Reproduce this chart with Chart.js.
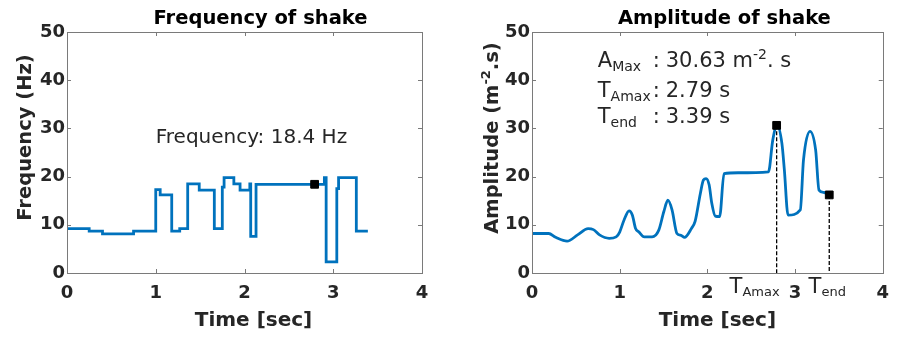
<!DOCTYPE html>
<html>
<head>
<meta charset="utf-8">
<script src="https://cdn.jsdelivr.net/npm/chart.js@4.4.0/dist/chart.umd.min.js"></script>
<style>
  body { margin: 0; background: #fff; }
  #wrap { position: relative; width: 899px; height: 339px; }
  canvas { position: absolute; top: 0; }
</style>
</head>
<body>
<div id="wrap">
  <canvas id="freq" width="450" height="339" style="left:0"></canvas>
  <canvas id="amp" width="449" height="339" style="left:450px"></canvas>
</div>
<script>
"use strict";

// frequency of shake (held value from each time until the next one)
var freqTime = [0, 0.25, 0.40, 0.75, 1.00, 1.05, 1.18, 1.27, 1.36, 1.49, 1.66, 1.75, 1.77, 1.88, 1.95, 2.06, 2.07, 2.13, 2.90, 2.92, 3.04, 3.06, 3.26, 3.39];
var freqHz = [9.2, 8.7, 8.1, 8.7, 17.3, 16.2, 8.7, 9.2, 18.5, 17.2, 9.2, 17.8, 19.8, 18.5, 17.2, 18.5, 7.6, 18.4, 19.8, 2.3, 17.5, 19.8, 8.7, 8.7];
var freqMarkTime = [2.79];
var freqMarkHz = [18.4];

// amplitude of shake
var ampTime = [0, 0.19, 0.27, 0.40, 0.52, 0.64, 0.70, 0.77, 0.88, 0.96, 1.00, 1.05, 1.107, 1.145, 1.18, 1.22, 1.28, 1.37, 1.446, 1.503, 1.55, 1.597, 1.653, 1.70, 1.74, 1.82, 1.86, 1.92, 1.955, 1.985, 2.02, 2.05, 2.09, 2.14, 2.19, 2.35, 2.697, 2.746, 2.795, 2.85, 2.878, 2.92, 3.06, 3.096, 3.17, 3.235, 3.273, 3.33, 3.39];
var ampVal = [8.2, 8.2, 7.4, 6.6, 7.9, 9.2, 9.0, 7.9, 7.2, 7.5, 8.5, 11.0, 12.9, 12.0, 9.3, 8.5, 7.5, 7.5, 8.9, 12.7, 15.1, 13.1, 8.2, 7.8, 7.4, 9.3, 10.7, 16.5, 19.3, 19.6, 18.3, 14.5, 11.8, 11.7, 20.6, 20.8, 21.0, 27.6, 30.7, 26.9, 21.4, 12.0, 13.1, 23.4, 29.4, 25.5, 17.2, 16.7, 16.2];
var ampMarkTime = [2.79, 3.39];
var ampMarkVal = [30.63, 16.2];

var xTicks = [0, 1, 2, 3, 4];
var yTicks = [0, 10, 20, 30, 40, 50];

var blue = '#0072BD';
var textColor = '#262626';
var tickFont = { family: 'DejaVu Sans', size: 18, weight: 'bold' };

function pts(xs, ys) {
  return xs.map(function(x, i) { return { x: x, y: ys[i] }; });
}

// text made of pieces: [text, size, dy, bold]
function drawRich(ctx, parts, x, y, align) {
  var w = 0;
  parts.forEach(function(p) {
    ctx.font = (p[3] ? 'bold ' : '') + p[1] + 'px "DejaVu Sans"';
    w += ctx.measureText(p[0]).width;
  });
  var sx = align === 'center' ? x - w / 2 : (align === 'right' ? x - w : x);
  parts.forEach(function(p) {
    ctx.font = (p[3] ? 'bold ' : '') + p[1] + 'px "DejaVu Sans"';
    ctx.fillText(p[0], sx, y + (p[2] || 0));
    sx += ctx.measureText(p[0]).width;
  });
}

// MATLAB style box with inward ticks
var boxPlugin = {
  id: 'box',
  afterDraw: function(chart) {
    var ctx = chart.ctx, a = chart.chartArea, xs = chart.scales.x, ys = chart.scales.y;
    ctx.save();
    ctx.strokeStyle = '#7a7a7a';
    ctx.lineWidth = 1;
    ctx.strokeRect(Math.round(a.left) + 0.5, Math.round(a.top) + 0.5, Math.round(a.right - a.left), Math.round(a.bottom - a.top));
    ctx.beginPath();
    xTicks.forEach(function(v) {
      var px = Math.round(xs.getPixelForValue(v)) + 0.5;
      ctx.moveTo(px, a.bottom); ctx.lineTo(px, a.bottom - 4);
      ctx.moveTo(px, a.top); ctx.lineTo(px, a.top + 4);
    });
    yTicks.forEach(function(v) {
      var py = Math.round(ys.getPixelForValue(v)) + 0.5;
      ctx.moveTo(a.left, py); ctx.lineTo(a.left + 4, py);
      ctx.moveTo(a.right, py); ctx.lineTo(a.right - 4, py);
    });
    ctx.stroke();
    ctx.restore();
  }
};

function textPlugin(draw) {
  return { id: 'texts', afterDraw: function(chart) {
    var ctx = chart.ctx;
    ctx.save();
    ctx.fillStyle = textColor;
    ctx.textBaseline = 'alphabetic';
    draw(chart, ctx, chart.chartArea, chart.scales.x, chart.scales.y);
    ctx.restore();
  } };
}

function baseOptions(padRight, yWidth) {
  return {
    responsive: false,
    animation: false,
    devicePixelRatio: 1,
    layout: { padding: { left: 0, top: 32, right: padRight, bottom: 0 } },
    plugins: { legend: { display: false }, tooltip: { enabled: false } },
    scales: {
      x: {
        type: 'linear', min: 0, max: 4,
        afterBuildTicks: function(s) { s.ticks = xTicks.map(function(v) { return { value: v }; }); },
        ticks: { font: tickFont, color: textColor, padding: 10, maxRotation: 0 },
        grid: { display: false, drawTicks: false, tickLength: 0 },
        border: { display: false },
        afterFit: function(s) { s.height = 66; }
      },
      y: {
        min: 0, max: 50,
        afterBuildTicks: function(s) { s.ticks = yTicks.map(function(v) { return { value: v }; }); },
        ticks: { font: tickFont, color: textColor, padding: 2 },
        grid: { display: false, drawTicks: false, tickLength: 0 },
        border: { display: false },
        afterFit: function(s) { s.width = yWidth; }
      }
    }
  };
}

new Chart(document.getElementById('freq'), {
  type: 'line',
  data: {
    datasets: [
      { data: pts(freqMarkTime, freqMarkHz), showLine: false, pointStyle: 'rect', pointRadius: 5.5,
        pointBackgroundColor: '#000', pointBorderColor: '#000', order: 0 },
      { data: pts(freqTime, freqHz), stepped: true, borderColor: blue, borderWidth: 2.8,
        pointRadius: 0, fill: false, order: 1 }
    ]
  },
  options: baseOptions(28, 67),
  plugins: [boxPlugin, textPlugin(function(chart, ctx, a, xs, ys) {
    var cx = (a.left + a.right) / 2;
    ctx.fillStyle = '#000';
    drawRich(ctx, [['Frequency of shake', 19.5, 0, true]], cx + 16, 24, 'center');
    ctx.fillStyle = textColor;
    drawRich(ctx, [['Time [sec]', 20, 0, true]], cx + 9, 326, 'center');
    ctx.save();
    ctx.translate(31, 137.5);
    ctx.rotate(-Math.PI / 2);
    drawRich(ctx, [['Frequency (Hz)', 19.5, 0, true]], 0, 0, 'center');
    ctx.restore();
    drawRich(ctx, [['Frequency: 18.4 Hz', 20, 0, false]], xs.getPixelForValue(1.0), ys.getPixelForValue(27.0), 'left');
  })]
});

new Chart(document.getElementById('amp'), {
  type: 'line',
  data: {
    datasets: [
      { data: pts(ampMarkTime, ampMarkVal), showLine: false, pointStyle: 'rect', pointRadius: 5.5,
        pointBackgroundColor: '#000', pointBorderColor: '#000', order: 0 },
      { data: [{ x: ampMarkTime[0], y: ampMarkVal[0] }, { x: ampMarkTime[0], y: 0 }], borderColor: '#000',
        borderWidth: 1.3, borderDash: [4, 2], pointRadius: 0, order: 1 },
      { data: [{ x: ampMarkTime[1], y: ampMarkVal[1] }, { x: ampMarkTime[1], y: 0 }], borderColor: '#000',
        borderWidth: 1.3, borderDash: [4, 2], pointRadius: 0, order: 1 },
      { data: pts(ampTime, ampVal), cubicInterpolationMode: 'monotone', borderColor: blue, borderWidth: 2.8,
        pointRadius: 0, fill: false, order: 2 }
    ]
  },
  options: baseOptions(13, 82),
  plugins: [boxPlugin, textPlugin(function(chart, ctx, a, xs, ys) {
    var cx = (a.left + a.right) / 2;
    ctx.fillStyle = '#000';
    drawRich(ctx, [['Amplitude of shake', 19.5, 0, true]], cx + 17, 24, 'center');
    ctx.fillStyle = textColor;
    drawRich(ctx, [['Time [sec]', 20, 0, true]], cx + 10, 326, 'center');
    ctx.save();
    ctx.translate(48, 138);
    ctx.rotate(-Math.PI / 2);
    drawRich(ctx, [['Amplitude (m', 19.5, 0, true], ['-2', 13, -8, true], ['.s)', 19.5, 0, true]], 0, 0, 'center');
    ctx.restore();

    // extra tick labels under the marked times
    var p1 = xs.getPixelForValue(ampMarkTime[0]);
    var p2 = xs.getPixelForValue(ampMarkTime[1]);
    drawRich(ctx, [['T', 21, 0, false], ['Amax', 13, 3, false]], p1 + 3, a.bottom + 20, 'right');
    drawRich(ctx, [['T', 21, 0, false], ['end', 13, 3, false]], p2 - 2, a.bottom + 20, 'center');

    // readout
    var x0 = xs.getPixelForValue(0.75);
    var lines = [
      [42.7, [['A', 21, 0], ['Max', 14, 4]], [['30.63 m', 21, 0], ['-2', 14, -8], ['. s', 21, 0]]],
      [36.5, [['T', 21, 0], ['Amax', 14, 4]], [['2.79 s', 21, 0]]],
      [31.1, [['T', 21, 0], ['end', 14, 4]], [['3.39 s', 21, 0]]]
    ];
    lines.forEach(function(l) {
      var y = ys.getPixelForValue(l[0]);
      drawRich(ctx, l[1], x0, y, 'left');
      drawRich(ctx, [[':', 21, 0]], x0 + 55, y, 'left');
      drawRich(ctx, l[2], x0 + 68, y, 'left');
    });
  })]
});
</script>
</body>
</html>
